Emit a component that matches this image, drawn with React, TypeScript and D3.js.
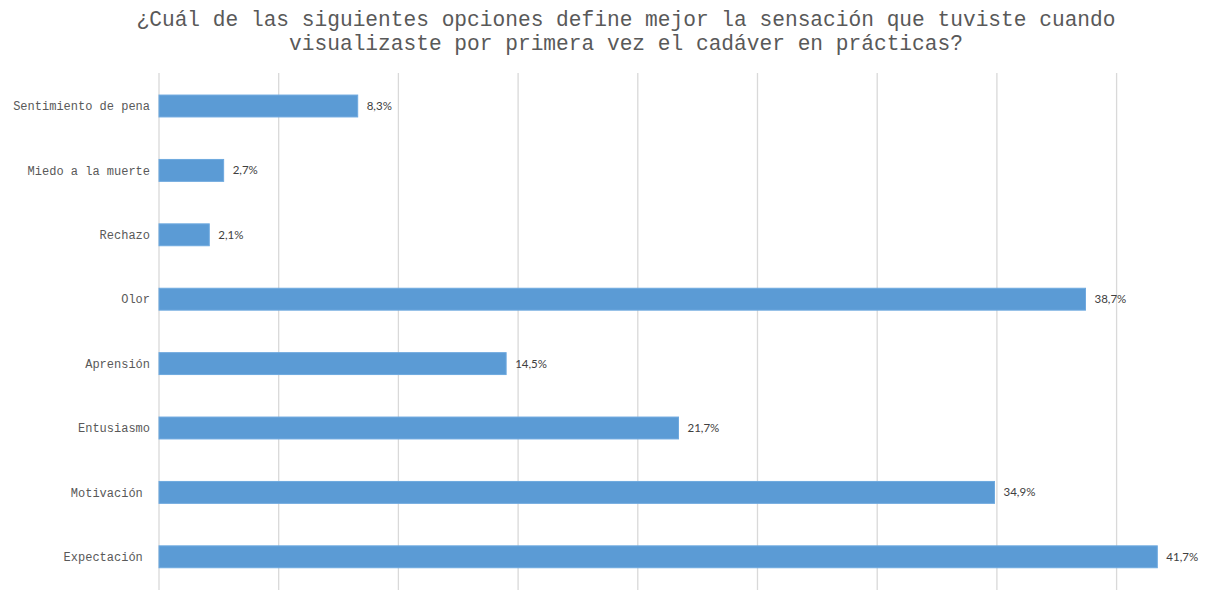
import React from "react";
import * as d3 from "d3";

const titleLines = [
  "¿Cuál de las siguientes opciones define mejor la sensación que tuviste cuando",
  "visualizaste por primera vez el cadáver en prácticas?",
];
const categories = [
  "Sentimiento de pena",
  "Miedo a la muerte",
  "Rechazo",
  "Olor",
  "Aprensión",
  "Entusiasmo",
  "Motivación ",
  "Expectación ",
];
const values = [8.3, 2.7, 2.1, 38.7, 14.5, 21.7, 34.9, 41.7];
const gridTicks = [0, 5, 10, 15, 20, 25, 30, 35, 40];

const W = 1232;
const H = 590;
const x0 = 159;
const pxPerUnit = 23.94;

const locale = d3.formatLocale({ decimal: ",", thousands: ".", grouping: [3], currency: ["", "€"] });
const fmt = locale.format(".1f");

export default function App() {
  const x = d3.scaleLinear().domain([0, 45]).range([x0, x0 + 45 * pxPerUnit]);
  const y = d3
    .scaleBand<string>()
    .domain(categories)
    .range([73.8, 589])
    .paddingInner(0.66)
    .paddingOuter(0.33);
  const bh = y.bandwidth();
  const mono = "'Liberation Mono', 'DejaVu Sans Mono', monospace";
  return (
    <svg
      width={W}
      height={H}
      style={{ position: "absolute", left: 0, top: 0, display: "block", background: "#fff" }}
    >
      {titleLines.map((t, i) => (
        <text
          key={i}
          x={626}
          y={26 + i * 24}
          textAnchor="middle"
          fontFamily={mono}
          fontSize={21.2}
          fill="#595959"
          style={{ whiteSpace: "pre" }}
        >
          {t}
        </text>
      ))}
      {gridTicks.map((t) => (
        <line key={t} x1={x(t)} x2={x(t)} y1={73} y2={590} stroke="#d9d9d9" strokeWidth={1.3} />
      ))}
      {categories.map((c, i) => {
        const yy = y(c)!;
        return (
          <g key={c}>
            <rect
              x={x(0)}
              y={yy}
              width={x(values[i]) - x(0)}
              height={bh}
              fill="#5b9bd5"
              stroke="#6ea9df"
              strokeWidth={1}
            />
            <text
              x={150}
              y={yy + bh / 2}
              dy="0.35em"
              textAnchor="end"
              fontFamily={mono}
              fontSize={12}
              fill="#595959"
              style={{ whiteSpace: "pre" }}
            >
              {c}
            </text>
            <text
              x={x(values[i]) + 9}
              y={yy + bh / 2}
              dy="0.35em"
              fontFamily="Lato, 'Open Sans', sans-serif"
              fontSize={11.5}
              fill="#404040"
            >
              {fmt(values[i])}%
            </text>
          </g>
        );
      })}
    </svg>
  );
}
